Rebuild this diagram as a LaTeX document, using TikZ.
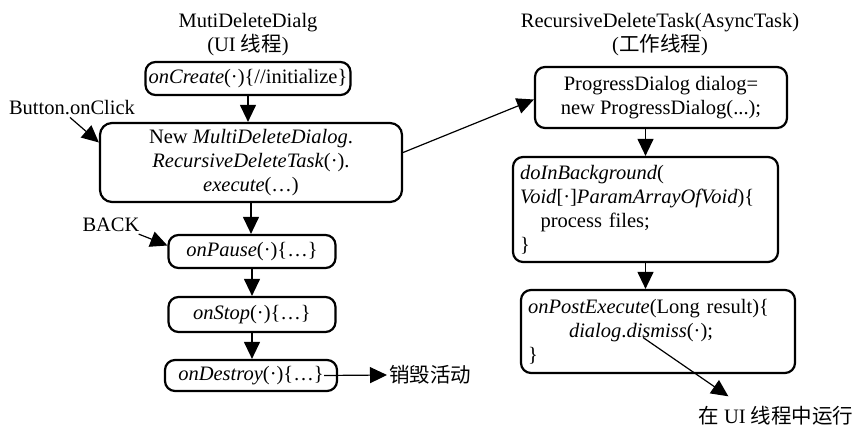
\documentclass[tikz,border=0pt]{standalone}
\usepackage{fontspec}
\setmainfont{Liberation Serif}
\newfontfamily\cjk{Noto Sans CJK SC}
\usetikzlibrary{arrows.meta, positioning, calc}

\tikzset{
  stage/.style={draw, line width=2.2pt, rounded corners=10pt, inner sep=0pt,
    align=center, font=\fontsize{20.5}{24}\selectfont},
  codebox/.style={stage, align=left, inner xsep=7pt},
  label/.style={inner sep=2pt, font=\fontsize{20.5}{24}\selectfont, align=center},
  flow/.style={-{Triangle[length=17pt,width=16pt]}, line width=1.2pt},
}

\begin{document}
\begin{tikzpicture}[x=1pt, y=-1pt]
            \useasboundingbox (0,0) rectangle (857,427);

            % UI thread
            \node[label] (uititle) at (248,35) {MutiDeleteDialg\\(UI {\cjk 线程})};
            \node[stage, minimum width=205, minimum height=33] (oncreate) at (248,78.5)
              {\textit{onCreate}(·)\{//initialize\}};
            \node[stage, rounded corners=12pt, minimum width=302, minimum height=79] (newtask) at (251,162.5)
              {New \textit{MultiDeleteDialog}.\\\textit{RecursiveDeleteTask}(·).\\\textit{execute}(…)};
            \node[stage, minimum width=167, minimum height=33] (onpause) at (252,251.5)
              {\textit{onPause}(·)\{…\}};
            \node[stage, minimum width=167, minimum height=35] (onstop) at (252,314.5)
              {\textit{onStop}(·)\{…\}};
            \node[stage, minimum width=172, minimum height=31] (ondestroy) at (251,375.5)
              {\textit{onDestroy}(·)\{…\}};

            \node[label] (clicklbl) at (72,108) {Button.onClick};
            \node[label] (backlbl) at (111,225) {BACK};
            \node[label, anchor=west] (gone) at (387,375) {\cjk 销毁活动};

            % worker thread
            \node[label] (tasktitle) at (660,35) {RecursiveDeleteTask(AsyncTask)\\({\cjk 工作线程})};
            \node[stage, minimum width=252, minimum height=61] (progress) at (661,97.5)
              {ProgressDialog dialog=\\new ProgressDialog(...);};
            \node[codebox, text width=251, minimum height=105] (background) at (645.5,209.5)
              {\textit{doInBackground}(\\\textit{Void}[·]\textit{ParamArrayOfVoid})\{\\\hspace*{1em}process files;\\\}};
            \node[codebox, text width=260, minimum height=83] (postexec) at (658,331.5)
              {\textit{onPostExecute}(Long result)\{\\\hspace*{2em}\textit{dialog}.\textit{dismiss}(·);\\\}};
            \node[label] (uilbl) at (776,416) {{\cjk 在} UI {\cjk 线程中运行}};

            % lifecycle arrows
            \draw[flow] (oncreate.south) -- (oncreate.south |- newtask.north);
            \draw[flow] (newtask.south) -- (newtask.south |- onpause.north);
            \draw[flow] (onpause.south) -- (onstop.north);
            \draw[flow] (onstop.south) -- (onstop.south |- ondestroy.north);
            \draw[flow] ([xshift=-2pt]clicklbl.south) -- ([yshift=20pt]newtask.west);
            \draw[flow] ([xshift=-3pt]backlbl.south east) -- ([yshift=6pt]onpause.west);
            \draw[flow] ([xshift=-14pt]ondestroy.east) -- (gone.west);

            % task arrows
            \draw[flow] ([yshift=10pt]newtask.east) -- ([yshift=-2pt]progress.west);
            \draw[flow] (background.north |- progress.south) -- (background.north);
            \draw[flow] (background.south) -- (background.south |- postexec.north);
            \draw[flow] ([xshift=-15pt,yshift=-6pt]postexec.center) -- ([xshift=32pt,yshift=8pt]uilbl.north west);
        \end{tikzpicture}
\end{document}
